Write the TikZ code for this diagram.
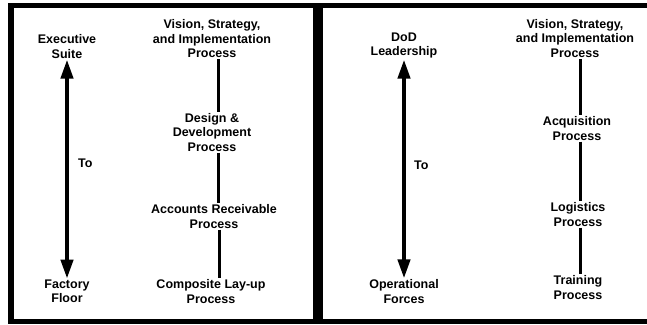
\documentclass[tikz,border=0pt]{standalone}
\usepackage{fontspec}
\setmainfont{Liberation Sans}
\usetikzlibrary{arrows.meta}
\tikzset{
  lbl/.style={align=center,inner sep=1pt,font=\bfseries\fontsize{12.5}{14.5}\selectfont},
  link/.style={line width=3pt},
  span/.style={line width=4pt,{Triangle[length=19pt,width=12pt]}-{Triangle[length=19pt,width=12pt]}}
}
\begin{document}
\begin{tikzpicture}[x=1pt,y=-1pt]
   \useasboundingbox (0,0) rectangle (647,324);
   % frame
   \draw[line width=5.5pt] (11,3) -- (11,324);
   \draw[line width=5pt] (8.5,5) -- (647,5);
   \draw[line width=5pt] (8.5,321.5) -- (647,321.5);
   \draw[line width=10pt] (318,3) -- (318,324);
   % left panel
   \node[lbl] (exec) at (67,46.5) {Executive\\Suite};
   \node[lbl] (floor) at (67,291.5) {Factory\\Floor};
   \node[lbl,anchor=west] (to) at (77,163) {To};
   \node[lbl] (vis) at (212,39) {Vision, Strategy,\\and Implementation\\Process};
   \node[lbl] (des) at (212,132.5) {Design \&\\Development\\Process};
   \node[lbl] (acc) at (214,216.5) {Accounts Receivable\\Process};
   \node[lbl] (comp) at (211,291.5) {Composite Lay-up\\Process};
   \draw[span] (exec) -- (floor);
   \draw[link] ([xshift=6pt]vis.south) -- ([xshift=6pt]vis.south |- des.north);
   \draw[link] ([xshift=6pt]des.south) -- ([xshift=6pt]des.south |- acc.north);
   \draw[link] ([xshift=5pt]acc.south) -- ([xshift=5pt]acc.south |- comp.north);
   % right panel
   \node[lbl] (dod) at (404,45.5) {DoD\\Leadership};
   \node[lbl] (ops) at (404,291.5) {Operational\\Forces};
   \node[lbl,anchor=west] (to2) at (413,165) {To};
   \node[lbl] (vis2) at (575,38.5) {Vision, Strategy,\\and Implementation\\Process};
   \node[lbl] (acq) at (577,128.5) {Acquisition\\Process};
   \node[lbl] (log) at (578,214.5) {Logistics\\Process};
   \node[lbl] (trn) at (578,287.5) {Training\\Process};
   \draw[span] (dod) -- (ops);
   \draw[link] ([xshift=5pt]vis2.south) -- ([xshift=5pt]vis2.south |- acq.north);
   \draw[link] ([xshift=3pt]acq.south) -- ([xshift=3pt]acq.south |- log.north);
   \draw[link] ([xshift=2pt]log.south) -- ([xshift=2pt]log.south |- trn.north);
\end{tikzpicture}
\end{document}
